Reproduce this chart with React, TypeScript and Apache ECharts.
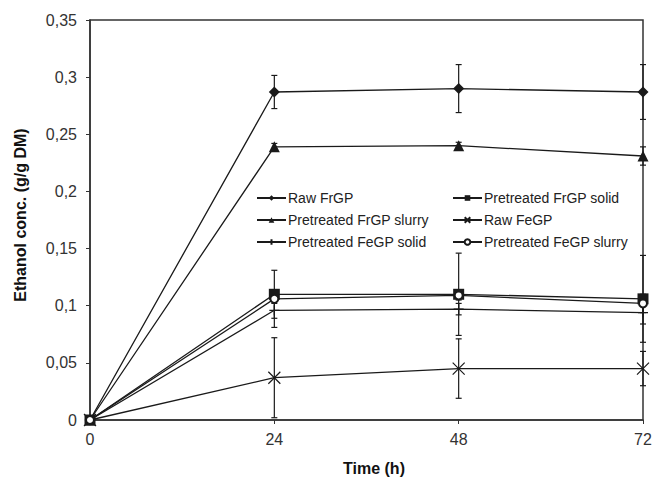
import React, { useEffect, useRef } from "react";
import * as echarts from "echarts";

const timeH = [0, 24, 48, 72];
const yTicks = [0, 0.05, 0.1, 0.15, 0.2, 0.25, 0.3, 0.35];

const rawFrGP = [0, 0.287, 0.29, 0.287];
const rawFrGPErr = [0, 0.0145, 0.021, 0.024];
const pretFrGPSolid = [0, 0.11, 0.11, 0.106];
const pretFrGPSolidErr = [0, 0.021, 0.036, 0.038];
const pretFrGPSlurry = [0, 0.239, 0.24, 0.231];
const pretFrGPSlurryErr = [0, 0.003, 0.003, 0.008];
const rawFeGP = [0, 0.037, 0.045, 0.045];
const rawFeGPErr = [0, 0.035, 0.026, 0.015];
const pretFeGPSolid = [0, 0.096, 0.097, 0.094];
const pretFeGPSolidErr = [0, 0.015, 0.005, 0.01];
const pretFeGPSlurry = [0, 0.106, 0.109, 0.102];
const pretFeGPSlurryErr = [0, 0.004, 0.004, 0.008];

const seriesDefs = [
  { name: "Raw FrGP", values: rawFrGP, err: rawFrGPErr, symbol: "diamond", size: 11 },
  { name: "Pretreated FrGP solid", values: pretFrGPSolid, err: pretFrGPSolidErr, symbol: "rect", size: 11 },
  { name: "Pretreated FrGP slurry", values: pretFrGPSlurry, err: pretFrGPSlurryErr, symbol: "triangle", size: 11 },
  { name: "Raw FeGP", values: rawFeGP, err: rawFeGPErr, symbol: "path://M0,0L10,10M10,0L0,10", size: 12, stroke: true },
  { name: "Pretreated FeGP solid", values: pretFeGPSolid, err: pretFeGPSolidErr, symbol: "path://M5,0L5,10M0,5L10,5", size: 10, stroke: true },
  { name: "Pretreated FeGP slurry", values: pretFeGPSlurry, err: pretFeGPSlurryErr, symbol: "emptyCircle", size: 8 },
];

const legendLeft = ["Raw FrGP", "Pretreated FrGP slurry", "Pretreated FeGP solid"];
const legendRight = ["Pretreated FrGP solid", "Raw FeGP", "Pretreated FeGP slurry"];

const INK = "#1a1a1a";
const FONT = "Liberation Sans, Arial, sans-serif";

function fmt(v: number) {
  return String(parseFloat(v.toFixed(2))).replace(".", ",");
}

export default function App() {
  const ref = useRef<HTMLDivElement>(null);
  useEffect(() => {
    if (!ref.current) return;
    const chart = echarts.init(ref.current, null, { renderer: "svg" });
    const series: any[] = [];
    seriesDefs.forEach((s) => {
      series.push({
        type: "custom",
        name: s.name + " err",
        silent: true,
        clip: false,
        z: 1,
        data: timeH.map((t, i) => [t, s.values[i] - s.err[i], s.values[i] + s.err[i]]).filter((d, i) => s.err[i] > 0),
        renderItem: (params: any, api: any) => {
          const top = api.coord([api.value(0), api.value(2)]);
          const bot = api.coord([api.value(0), api.value(1)]);
          const w = 3;
          const st = { stroke: INK, lineWidth: 1.2 };
          return {
            type: "group",
            children: [
              { type: "line", shape: { x1: top[0], y1: top[1], x2: bot[0], y2: bot[1] }, style: st },
              { type: "line", shape: { x1: top[0] - w, y1: top[1], x2: top[0] + w, y2: top[1] }, style: st },
              { type: "line", shape: { x1: bot[0] - w, y1: bot[1], x2: bot[0] + w, y2: bot[1] }, style: st },
            ],
          };
        },
      });
    });
    seriesDefs.forEach((s) => {
      series.push({
        type: "line",
        name: s.name,
        data: timeH.map((t, i) => [t, s.values[i]]),
        symbol: s.symbol,
        symbolSize: s.size,
        showAllSymbol: true,
        clip: false,
        z: 3,
        lineStyle: { color: INK, width: 1.3 },
        itemStyle: s.stroke
          ? { color: INK, borderColor: INK, borderWidth: 1.2 }
          : s.symbol === "emptyCircle"
          ? { color: INK, borderColor: INK, borderWidth: 1 }
          : { color: INK },
      });
    });
    const legendCommon = {
      orient: "vertical",
      itemWidth: 29,
      itemHeight: 7,
      itemGap: 8,
      textStyle: { fontFamily: FONT, fontSize: 14, color: "#222", padding: [0, 0, 0, -3] },
      selectedMode: false,
      padding: 0,
    };
    chart.setOption({
      animation: false,
      grid: { left: 90, right: 12, top: 20, bottom: 57, show: true, borderColor: "#333", borderWidth: 1.5 },
      xAxis: {
        type: "value",
        min: 0,
        max: 72,
        interval: 24,
        axisLine: { show: true, lineStyle: { color: "#333", width: 1.5 } },
        axisTick: { show: true, length: 4, lineStyle: { color: "#333" } },
        splitLine: { show: false },
        axisLabel: { fontFamily: FONT, fontSize: 16, color: "#333", margin: 11 },
      },
      yAxis: {
        type: "value",
        min: yTicks[0],
        max: yTicks[yTicks.length - 1],
        interval: 0.05,
        axisLine: { show: true, lineStyle: { color: "#333", width: 1.5 } },
        axisTick: { show: true, length: 4, lineStyle: { color: "#333" } },
        splitLine: { show: false },
        axisLabel: { fontFamily: FONT, fontSize: 16, color: "#333", margin: 13, formatter: (v: number) => fmt(v) },
      },
      legend: [
        { ...legendCommon, left: 256, top: 191, data: legendLeft },
        { ...legendCommon, left: 452, top: 191, data: legendRight },
      ],
      graphic: [
        {
          type: "text",
          x: 20,
          y: 215,
          rotation: Math.PI / 2,
          style: { text: "Ethanol conc. (g/g DM)", fontFamily: FONT, fontWeight: "bold", fontSize: 16, fill: "#111", align: "center", verticalAlign: "middle" },
        },
        {
          type: "text",
          x: 374,
          y: 468,
          style: { text: "Time (h)", fontFamily: FONT, fontWeight: "bold", fontSize: 16, fill: "#111", align: "center", verticalAlign: "middle" },
        },
      ],
      series,
    });
    return () => chart.dispose();
  }, []);
  return <div ref={ref} style={{ width: 655, height: 477, position: "absolute", left: 0, top: 0 }} />;
}
